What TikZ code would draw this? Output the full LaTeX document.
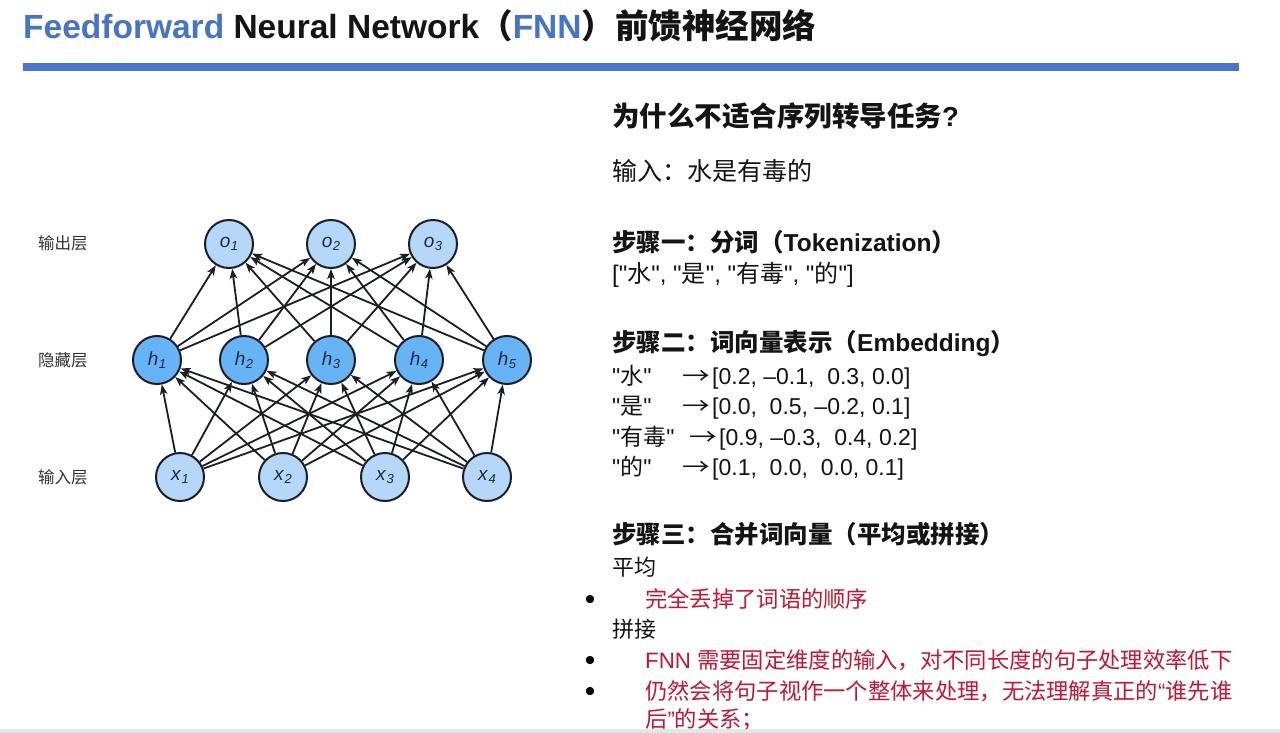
\documentclass[tikz,border=0pt]{standalone}
\usepackage{fontspec}
\setmainfont{Liberation Sans}
\newfontfamily\lat{Liberation Sans}
\newfontfamily\cjk{Noto Sans CJK SC}
\usetikzlibrary{arrows.meta}
\definecolor{titleblue}{RGB}{70,116,200}
\definecolor{barblue}{RGB}{74,117,202}
\definecolor{lightnode}{RGB}{181,216,250}
\definecolor{darknode}{RGB}{102,179,245}
\definecolor{nodeedge}{RGB}{26,30,38}
\definecolor{nodetext}{RGB}{27,42,68}
\definecolor{txt}{RGB}{20,20,20}
\definecolor{redtxt}{RGB}{196,22,50}
\definecolor{layertxt}{RGB}{51,51,51}
\definecolor{bandgray}{RGB}{230,230,230}
\newcommand\zh[1]{{\cjk #1}}
\newcommand\dq{{\lat\char"22\relax}}
\newcommand\arr{{\cjk\scalebox{1.2}[1]{→}}}
\newcommand\nlab[2]{\textit{#1}\kern0.3pt\raisebox{-0.35ex}{\fontsize{13}{13}\selectfont\textit{#2}}}
\tikzset{
  neuron/.style={circle, draw=nodeedge, line width=2pt, minimum size=48pt, inner sep=0pt,
    font=\fontsize{19}{19}\selectfont, text=nodetext},
  lightn/.style={neuron, fill=lightnode},
  darkn/.style={neuron, fill=darknode},
  conn/.style={draw=nodeedge, line width=1.8pt, -{Stealth[length=10pt,width=7.5pt,inset=2.5pt]}},
  layerlab/.style={anchor=west, inner sep=0pt, text=layertxt, font=\fontsize{16.5}{16.5}\selectfont\cjk},
  line/.style={anchor=base west, inner sep=0pt, text=txt},
  heada/.style={line, font=\fontsize{27.5}{27.5}\selectfont\bfseries},
  headb/.style={line, font=\fontsize{24.5}{24.5}\selectfont\bfseries},
  bodya/.style={line, font=\fontsize{25}{25}\selectfont},
  bodyt/.style={line, font=\fontsize{24}{24}\selectfont},
  bodyb/.style={line, font=\fontsize{23}{23}\selectfont},
  bodyc/.style={line, font=\fontsize{22}{22}\selectfont},
  redline/.style={line, text=redtxt, font=\fontsize{22.3}{22.3}\selectfont},
  bul/.style={anchor=base, inner sep=0pt, text=black, font=\fontsize{30}{30}\selectfont},
}
\begin{document}
\begin{tikzpicture}[x=1pt,y=-1pt]
\path[use as bounding box, fill=white] (0,0) rectangle (1280,733);
% title
\node[line, font=\fontsize{33.5}{33.5}\selectfont\bfseries] (title) at (23,39)
  {\textcolor{titleblue}{Feedforward} Neural Network\zh{（}\textcolor{titleblue}{FNN}\zh{）前馈神经网络}};
\fill[barblue] (23,63) rectangle (1239,71);
% layer labels
\node[layerlab] (lo) at (38,243) {输出层};
\node[layerlab] (lh) at (38,360) {隐藏层};
\node[layerlab] (li) at (38,477) {输入层};
% neurons
\foreach \i/\xx in {1/229,2/331,3/433}
  \node[lightn] (o\i) at (\xx,244) {\nlab{o}{\i}};
\foreach \i/\xx in {1/157,2/244,3/331,4/419,5/507}
  \node[darkn] (h\i) at (\xx,360) {\nlab{h}{\i}};
\foreach \i/\xx in {1/180,2/283,3/385,4/487}
  \node[lightn] (x\i) at (\xx,477) {\nlab{x}{\i}};
\foreach \i in {1,...,5}
  \foreach \j in {1,2,3}
    \draw[conn] (h\i) -- (o\j);
\foreach \i in {1,...,4}
  \foreach \j in {1,...,5}
    \draw[conn] (x\i) -- (h\j);
% right text
\node[heada] (q) at (612,127) {\zh{为什么不适合序列转导任务}?};
\node[bodya] (inp) at (612,181) {\zh{输入：水是有毒的}};
\node[headb] (s1) at (612,251) {\zh{步骤一：分词（}Tokenization\zh{）}};
\node[bodyt] (tok) at (612,282) {[\dq\zh{水}\dq, \dq\zh{是}\dq, \dq\zh{有毒}\dq, \dq\zh{的}\dq]};
\node[headb] (s2) at (612,351) {\zh{步骤二：词向量表示（}Embedding\zh{）}};
\node[bodyb] (e1) at (612,384) {\dq\zh{水}\dq};
\node[bodyb] (a1) at (682,384) {\arr};
\node[bodyb] (v1) at (712,384) {[0.2, –0.1,\ \ 0.3, 0.0]};
\node[bodyb] (e2) at (612,414) {\dq\zh{是}\dq};
\node[bodyb] (a2) at (682,414) {\arr};
\node[bodyb] (v2) at (712,414) {[0.0,\ \ 0.5, –0.2, 0.1]};
\node[bodyb] (e3) at (612,445) {\dq\zh{有毒}\dq};
\node[bodyb] (a3) at (689,445) {\arr};
\node[bodyb] (v3) at (719,445) {[0.9, –0.3,\ \ 0.4, 0.2]};
\node[bodyb] (e4) at (612,475) {\dq\zh{的}\dq};
\node[bodyb] (a4) at (682,475) {\arr};
\node[bodyb] (v4) at (712,475) {[0.1,\ \ 0.0,\ \ 0.0, 0.1]};
\node[headb] (s3) at (612,543) {\zh{步骤三：合并词向量（平均或拼接）}};
\node[bodyc] (avg) at (612,575) {\zh{平均}};
\node[bul] (b1) at (590,609) {•};
\node[redline] (r1) at (645,607) {\zh{完全丢掉了词语的顺序}};
\node[bodyc] (cat) at (612,637) {\zh{拼接}};
\node[bul] (b2) at (590,670) {•};
\node[redline] (r2) at (645,668) {FNN \zh{需要固定维度的输入，对不同长度的句子处理效率低下}};
\node[bul] (b3) at (590,701) {•};
\node[redline] (r3) at (645,699) {\zh{仍然会将句子视作一个整体来处理，无法理解真正的}{\lat “}\zh{谁先谁}};
\node[redline] (r4) at (645,727) {\zh{后}{\lat ”}\zh{的关系；}};
\fill[bandgray] (0,729) rectangle (1280,733);
\end{tikzpicture}
\end{document}
